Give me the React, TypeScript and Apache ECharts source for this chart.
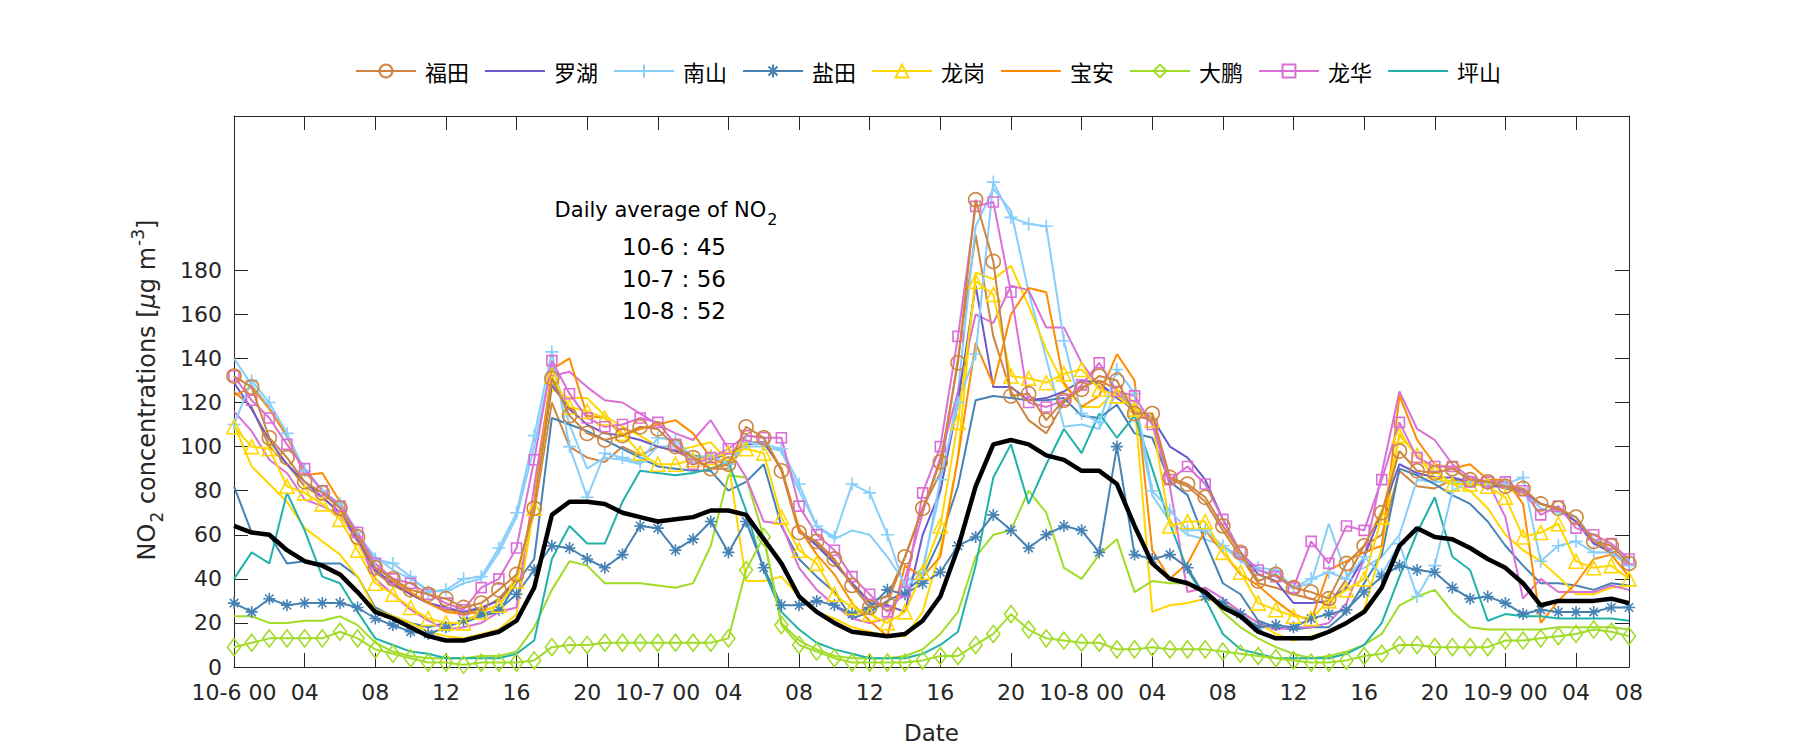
import React, { useEffect, useRef } from "react";
import * as echarts from "echarts";

// ---------- tick labels ----------
const xTickIndex = [0, 4, 8, 12, 16, 20, 24, 28, 32, 36, 40, 44, 48, 52, 56, 60, 64, 68, 72, 76, 79];
const xTickLabels = ["10-6 00", "04", "08", "12", "16", "20", "10-7 00", "04", "08", "12", "16", "20", "10-8 00", "04", "08", "12", "16", "20", "10-9 00", "04", "08"];
const yTicks = [0, 20, 40, 60, 80, 100, 120, 140, 160, 180];

// ---------- daily averages ----------
const dailyDates = ["10-6", "10-7", "10-8"];
const dailyAvg = [45, 56, 52];

// ---------- hourly NO2 (index 0 = 10-6 00) ----------
const futian = [132,127,104,95,84,79,72,59,45,40,35,33,31,27,29,35,42,72,131,114,106,103,105,
  109,108,100,95,90,92,109,104,89,61,57,49,37,27,29,50,72,93,138,212,184,
  123,124,112,121,126,132,130,115,115,86,83,77,64,52,39,42,36,34,31,47,
  55,70,98,89,88,90,85,84,82,81,74,72,68,57,55,47];
const luohu = [129,117,103,92,84,77,70,58,44,38,33,29,27,25,27,30,40,74,128,117,110,106,105,
  103,100,98,96,94,97,101,102,90,62,55,47,38,29,28,25,60,80,120,173,127,
  127,121,122,125,130,129,122,117,113,100,95,85,67,52,42,39,29,29,30,36,
  50,70,92,88,86,86,84,82,82,80,74,72,66,56,52,46];
const nanshan = [110,130,120,106,89,80,74,61,49,47,41,34,35,40,41,54,70,105,143,100,77,97,95,
  93,104,103,95,96,92,102,101,99,83,64,59,83,79,60,36,43,85,120,142,220,
  204,201,200,148,115,111,135,124,80,71,62,62,55,50,45,44,36,40,43,40,
  50,42,56,32,46,80,84,83,83,86,48,55,57,52,52,46];
const yantian = [29,25,31,28,29,29,29,27,22,19,16,15,18,21,24,26,33,44,55,54,49,45,51,
  64,63,53,58,66,52,66,45,28,28,30,28,24,27,35,33,38,43,55,59,69,
  62,54,60,64,62,52,100,51,49,51,45,32,29,24,18,19,18,22,24,26,
  34,41,46,44,43,36,31,32,29,24,26,25,25,25,27,27];
const longgang = [109,100,99,82,79,74,67,53,38,33,27,22,20,20,25,28,39,72,132,118,116,113,106,
  97,92,92,94,95,97,99,97,68,53,47,33,27,24,20,25,43,64,111,175,169,
  132,131,129,133,135,126,123,117,112,64,66,66,52,43,29,26,23,22,30,35,
  40,68,105,96,89,83,83,82,77,59,61,65,48,45,46,40];
const baoan = [123,127,117,105,87,88,75,60,47,39,34,29,25,24,25,28,39,75,135,140,114,113,105,
  108,110,112,106,95,91,105,104,90,63,51,42,29,21,14,46,41,50,95,147,128,
  160,172,170,129,118,123,142,130,53,40,47,62,52,42,37,30,24,21,44,48,
  52,55,123,103,92,90,92,85,85,74,20,30,38,49,51,41];
const dapeng = [9,11,13,13,13,13,16,13,8,6,4,2,2,1,2,2,2,3,9,10,10,11,11,
  11,11,11,11,11,13,44,59,19,10,7,4,2,2,2,2,3,5,5,10,15,
  24,17,13,12,11,11,8,8,9,8,8,8,7,6,5,4,3,2,2,3,
  5,6,10,10,9,9,9,9,12,12,13,14,15,17,16,14];
const longhua = [132,121,113,101,90,80,73,61,47,40,38,33,29,26,36,40,54,94,139,124,113,109,110,
  113,111,101,92,95,99,105,104,104,73,60,53,41,33,25,34,79,100,150,209,211,
  170,120,118,121,128,138,125,123,110,85,91,83,67,52,44,41,36,57,47,64,
  62,85,111,95,91,91,84,84,84,80,69,73,63,60,56,49];
const pingshan = [40,52,47,79,62,41,38,25,13,10,7,6,4,4,4,4,6,12,49,64,56,56,75,
  89,88,87,88,90,93,71,44,25,17,11,8,6,4,4,4,6,10,16,46,86,
  101,74,92,108,97,115,104,114,90,65,44,31,15,8,6,4,4,4,4,6,
  10,20,41,61,77,50,44,21,24,23,23,22,22,22,22,21];

// second stations (no markers, not in legend)
const futian2 = [125,118,100,92,82,77,70,57,43,37,33,29,26,25,26,31,40,70,120,100,95,93,100,
  96,100,98,94,90,90,102,102,90,62,56,48,38,30,32,50,72,88,140,196,150,
  125,112,106,120,127,130,126,114,112,85,82,75,62,50,38,36,33,31,28,40,
  55,60,89,82,81,85,84,83,81,79,74,71,66,57,53,46];
const nanshan2 = [140,128,118,104,90,80,73,60,50,44,40,35,34,38,40,52,68,100,138,110,90,95,94,
  92,100,100,96,95,93,100,100,98,80,64,58,62,60,50,38,45,80,125,200,217,
  207,170,140,109,110,108,125,118,78,66,60,58,55,48,44,42,36,38,65,42,
  45,50,60,85,84,84,83,82,82,80,72,70,68,58,55,48];
const yantian2 = [82,61,60,47,48,47,47,41,27,23,20,18,20,20,23,25,38,49,113,110,107,103,99,
  95,91,90,89,89,80,84,92,64,49,41,34,22,25,30,34,41,58,82,121,123,
  122,121,121,122,114,113,119,106,104,84,78,57,38,33,21,18,17,18,18,25,
  38,51,90,87,83,78,74,66,55,46,38,38,37,35,38,37];
const longgang2 = [110,91,83,75,63,57,51,41,26,23,20,16,14,13,15,17,24,73,126,122,122,114,109,
  105,100,98,100,102,93,39,39,41,32,25,22,18,16,14,14,25,53,95,179,176,
  182,164,144,128,118,118,126,120,25,28,29,31,29,25,20,15,12,14,16,20,
  26,54,106,96,86,83,80,72,60,53,48,41,33,33,36,37];
const dapeng2 = [23,23,20,20,21,21,23,19,11,7,5,4,4,4,5,5,7,18,35,48,46,38,38,
  38,37,36,38,55,87,86,59,20,12,8,5,4,4,4,5,8,15,25,50,60,
  62,80,70,45,40,51,58,34,39,38,38,35,25,18,13,9,6,4,5,7,
  10,15,28,32,35,25,18,17,17,17,17,18,18,18,18,17];
const longhua2 = [116,107,94,88,76,73,69,57,40,33,26,21,17,18,20,25,27,82,132,134,127,121,120,
  115,110,106,103,112,99,86,66,65,45,35,28,22,20,22,40,70,95,125,160,156,
  173,171,154,154,138,127,124,117,111,82,34,36,31,25,20,17,18,18,20,29,
  49,88,125,108,103,92,86,84,68,31,40,34,34,34,37,35];
const average = [64,61,60,53,48,46,42,34,25,22,18,14,12,12,14,16,21,36,69,75,75,74,70,
  68,66,67,68,71,71,69,58,47,32,25,20,16,15,14,15,21,32,54,82,101,
  103,101,96,94,89,89,83,64,47,40,38,34,27,23,16,13,13,13,16,20,
  25,36,55,63,59,58,54,49,45,38,28,30,30,30,31,29];

const legendNames = ["福田", "罗湖", "南山", "盐田", "龙岗", "宝安", "大鹏", "龙华", "坪山"];

const C = {
  futian: "#CD853F", luohu: "#6A5ACD", nanshan: "#87CEFA", yantian: "#4682B4",
  longgang: "#FFD700", baoan: "#FF8C00", dapeng: "#A0DC28", longhua: "#DA70D6", pingshan: "#20B2AA",
};

const PLUS = "path://M5 0 L5 10 M0 5 L10 5";
const STAR = "path://M5 0 L5 10 M0 5 L10 5 M1.5 1.5 L8.5 8.5 M1.5 8.5 L8.5 1.5";

const FONT = "DejaVu Sans";
const TXT = "#262626";

function mk(name: string, values: number[], color: string, symbol: string, size: any, width = 2, z = 2) {
  const plain = symbol === "none";
  return {
    type: "line",
    name,
    data: values.map((v, i) => [i, v]),
    symbol,
    symbolSize: size,
    showSymbol: !plain,
    lineStyle: { color, width },
    itemStyle: plain
      ? { color: "transparent", borderColor: "transparent", borderWidth: 0 }
      : { color: "transparent", borderColor: color, borderWidth: 1.6 },
    emphasis: { disabled: true },
    z,
    silent: true,
  };
}

export default function App() {
  const ref = useRef<HTMLDivElement>(null);
  useEffect(() => {
    const chart = echarts.init(ref.current!, null, { renderer: "svg" });
    const tickCommon = { show: true, inside: true, length: 14, lineStyle: { color: TXT, width: 1 } };
    const option: any = {
      animation: false,
      backgroundColor: "#ffffff",
      grid: { left: 234, right: 171, top: 116, bottom: 83 },
      legend: {
        data: legendNames,
        left: 350,
        top: 55,
        itemWidth: 60,
        itemHeight: 16,
        itemGap: 15,
        textStyle: { fontFamily: "Noto Sans CJK SC", fontSize: 22, color: "#000", padding: [0, 0, 0, 4] },
      },
      xAxis: [
        {
          type: "value", min: 0, max: 79, position: "bottom",
          name: "Date", nameLocation: "middle", nameGap: 54,
          nameTextStyle: { fontFamily: FONT, fontSize: 23, color: TXT },
          axisLine: { show: true, onZero: false, lineStyle: { color: TXT, width: 1 } },
          axisTick: { ...tickCommon, customValues: xTickIndex },
          axisLabel: {
            customValues: xTickIndex, margin: 14, fontFamily: FONT, fontSize: 22, color: TXT,
            formatter: (v: number) => xTickLabels[xTickIndex.indexOf(Math.round(v))] ?? "",
          },
          splitLine: { show: false },
        },
        {
          type: "value", min: 0, max: 79, position: "top",
          axisLine: { show: true, onZero: false, lineStyle: { color: TXT, width: 1 } },
          axisTick: { ...tickCommon, customValues: xTickIndex },
          axisLabel: { show: false },
          splitLine: { show: false },
        },
      ],
      yAxis: [
        {
          type: "value", min: 0, max: 250, position: "left",
          axisLine: { show: true, onZero: false, lineStyle: { color: TXT, width: 1 } },
          axisTick: { ...tickCommon, customValues: yTicks },
          axisLabel: { customValues: yTicks, margin: 12, fontFamily: FONT, fontSize: 22, color: TXT },
          splitLine: { show: false },
        },
        {
          type: "value", min: 0, max: 250, position: "right",
          axisLine: { show: true, onZero: false, lineStyle: { color: TXT, width: 1 } },
          axisTick: { ...tickCommon, customValues: yTicks },
          axisLabel: { show: false },
          splitLine: { show: false },
        },
      ],
      series: [
        mk("福田 2", futian2, C.futian, "none", 0, 2, 2),
        mk("南山 2", nanshan2, C.nanshan, "none", 0, 2, 2),
        mk("盐田 2", yantian2, C.yantian, "none", 0, 2, 2),
        mk("龙岗 2", longgang2, C.longgang, "none", 0, 2, 2),
        mk("大鹏 2", dapeng2, C.dapeng, "none", 0, 2, 2),
        mk("龙华 2", longhua2, C.longhua, "none", 0, 2, 2),
        mk("罗湖", luohu, C.luohu, "none", 0, 2, 3),
        mk("宝安", baoan, C.baoan, "none", 0, 2, 3),
        mk("坪山", pingshan, C.pingshan, "none", 0, 2, 3),
        mk("南山", nanshan, C.nanshan, PLUS, 13, 2, 4),
        mk("盐田", yantian, C.yantian, STAR, 12, 2, 4),
        mk("大鹏", dapeng, C.dapeng, "diamond", [13, 17], 2, 4),
        mk("龙岗", longgang, C.longgang, "triangle", 14, 2, 4),
        mk("龙华", longhua, C.longhua, "rect", 10, 2, 4),
        mk("福田", futian, C.futian, "circle", 14, 2, 5),
        mk("平均", average, "#000000", "none", 0, 4.5, 6),
      ],
      graphic: [
        {
          type: "text", x: 147, y: 390, rotation: Math.PI / 2,
          style: {
            text: "{a|NO}{b|2}{a| concentrations [}{m|μ}{a|g m}{c|-3}{a|]}",
            align: "center", verticalAlign: "middle", fill: TXT,
            rich: {
              a: { fontFamily: FONT, fontSize: 24, fill: TXT, verticalAlign: "middle" },
              m: { fontFamily: FONT, fontSize: 24, fill: TXT, fontStyle: "italic", verticalAlign: "middle" },
              b: { fontFamily: FONT, fontSize: 17, fill: TXT, padding: [20, 0, 0, 1], verticalAlign: "middle" },
              c: { fontFamily: FONT, fontSize: 17, fill: TXT, padding: [0, 0, 18, 1], verticalAlign: "middle" },
            },
          },
        },
        {
          type: "text", x: 666, y: 210,
          style: {
            text: "{a|Daily average of NO}{b|2}",
            align: "center", verticalAlign: "middle", fill: "#000",
            rich: {
              a: { fontFamily: FONT, fontSize: 21, fill: "#000", verticalAlign: "middle" },
              b: { fontFamily: FONT, fontSize: 16, fill: "#000", padding: [18, 0, 0, 1], verticalAlign: "middle" },
            },
          },
        },
        ...dailyDates.map((d, i) => ({
          type: "text", x: 674, y: 247 + i * 32,
          style: {
            text: `${d} : ${dailyAvg[i]}`,
            align: "center", verticalAlign: "middle", fill: "#000",
            fontFamily: FONT, fontSize: 23,
          },
        })),
      ],
    };
    chart.setOption(option);
    return () => chart.dispose();
  }, []);
  return (
    <div
      ref={ref}
      style={{ position: "fixed", left: 0, top: 0, width: 1800, height: 750, background: "#fff" }}
    />
  );
}
